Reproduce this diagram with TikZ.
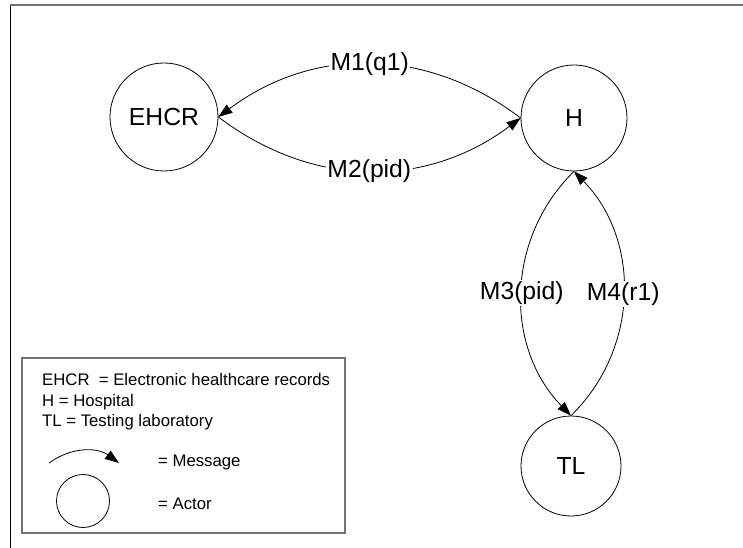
\documentclass[tikz,border=0pt]{standalone}
\usepackage{fontspec}
\setmainfont{Liberation Sans}
\usetikzlibrary{arrows.meta}
\definecolor{framegray}{RGB}{115,115,115}
\tikzset{
  actor/.style={circle, draw=black, line width=0.8bp, inner sep=0pt, font=\fontsize{24.8}{28}\selectfont},
  msg/.style={draw=black, line width=0.8bp, -{Triangle[length=14bp,width=10bp]}},
  lbl/.style={fill=white, inner sep=1.5bp, font=\fontsize{24.8}{28}\selectfont},
  legtext/.style={anchor=base west, inner sep=0pt, font=\fontsize{16.8}{20}\selectfont},
  legbox/.style={draw=framegray, line width=1.4bp},
}
\begin{document}
\begin{tikzpicture}[x=1bp,y=-1bp]
\useasboundingbox (0,0) rectangle (743,548);
% frame
\draw[black, line width=1bp] (10,548) -- (10,5);
\draw[framegray, line width=1.5bp] (10,5) -- (743,5);

% actors
\node[actor, minimum size=108bp] (E) at (164,117) {EHCR};
\node[actor, minimum size=106bp] (H) at (574,118) {H};
\node[actor, minimum size=100bp] (T) at (571,466) {TL};

% messages
\draw[msg] (H.west) to[bend right=37] node[lbl] {M1(q1)} (E.east);
\draw[msg] (E.east) to[bend right=37] node[lbl] {M2(pid)} (H.west);
\draw[msg] (H.south) to[bend right=45] node[lbl] {M3(pid)} (T.north);
\draw[msg] (T.north) to[bend right=45] node[lbl] {M4(r1)} (H.south);

% legend
\node[legbox, minimum width=323bp, minimum height=175bp, inner sep=0pt] (L) at (183.5,445.5) {};
\node[legtext] (l1) at (42,385.7) {EHCR\ \ = Electronic healthcare records};
\node[legtext] (l2) at (42,406.7) {H = Hospital};
\node[legtext] (l3) at (42,426.7) {TL = Testing laboratory};
\coordinate (ms) at (49,463);
\coordinate (me) at (119,463);
\draw[msg] (ms) to[bend left=36] (me);
\node[legtext] (l4) at (158,466) {= Message};
\node[actor, minimum size=53bp] (LA) at (83,501) {};
\node[legtext] (l5) at (158,509) {= Actor};
\end{tikzpicture}
\end{document}
